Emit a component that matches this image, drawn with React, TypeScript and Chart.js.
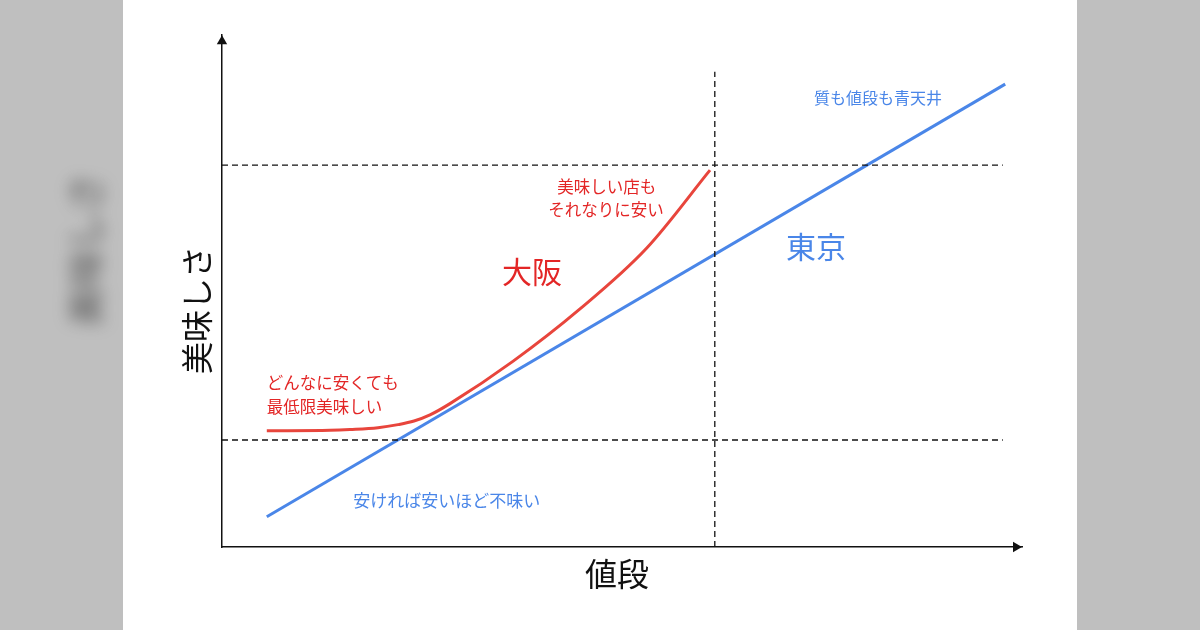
import React, { useEffect, useRef } from "react";
import { Chart, registerables } from "chart.js";

Chart.register(...registerables);

// Price (x) vs. tastiness (y), arbitrary 0-100 units
const tokyoX = [5.6, 97.9];
const tokyoY = [5.9, 90.4];

const osakaX = [5.6, 13.5, 16.0, 19.5, 22.0, 24.0, 26.0, 28.5, 36.4, 44.75, 53.1, 61.0];
const osakaY = [22.7, 22.8, 22.95, 23.3, 23.9, 24.6, 25.8, 28.0, 36.3, 46.5, 58.4, 73.6];

const refHighY = 74.6;
const refLowY = 20.9;
const refLineEndX = 97.6;
const refPriceX = 61.6;
const refPriceTopY = 92.8;

const xTitle = "値段";
const yTitle = "美味しさ";
const labelTexts = [
  "質も値段も青天井",
  "東京",
  "大阪",
  "美味しい店も",
  "それなりに安い",
  "どんなに安くても",
  "最低限美味しい",
  "安ければ安いほど不味い",
];

const FONT = '"Noto Sans CJK JP", "Noto Sans", sans-serif';
const BLUE = "#4a86e8";
const RED = "#e8453c";
const RED_TEXT = "#e32626";

const labelStyles = [
  { x: 82, y: 87.7, size: 16, color: BLUE, align: "center" },
  { x: 74.25, y: 58.6, size: 30, color: BLUE, align: "center" },
  { x: 38.75, y: 53.7, size: 30, color: RED_TEXT, align: "center" },
  { x: 48.1, y: 70.3, size: 16.5, color: RED_TEXT, align: "center" },
  { x: 48.0, y: 65.8, size: 16.5, color: RED_TEXT, align: "center" },
  { x: 5.6, y: 32.0, size: 16.5, color: RED_TEXT, align: "left" },
  { x: 5.6, y: 27.3, size: 16.5, color: RED_TEXT, align: "left" },
  { x: 28.1, y: 9.0, size: 17, color: BLUE, align: "center" },
];

const textPlugin = {
  id: "textLabels",
  afterDatasetsDraw(chart: any) {
    const { ctx, scales, chartArea } = chart;
    const xs = scales.x;
    const ys = scales.y;
    ctx.save();
    ctx.textBaseline = "middle";
    labelTexts.forEach((t, i) => {
      const s = labelStyles[i];
      ctx.font = `${s.size}px ${FONT}`;
      ctx.fillStyle = s.color;
      ctx.textAlign = s.align;
      ctx.fillText(t, xs.getPixelForValue(s.x), ys.getPixelForValue(s.y));
    });
    // axis titles
    ctx.fillStyle = "#111";
    ctx.font = `32px ${FONT}`;
    ctx.textAlign = "center";
    ctx.fillText(xTitle, chartArea.left + 395, chartArea.bottom + 27);
    ctx.save();
    ctx.translate(chartArea.left - 25, chartArea.top + 275);
    ctx.rotate(-Math.PI / 2);
    ctx.fillText(yTitle, 0, 0);
    ctx.restore();
    ctx.restore();
  },
};

export default function App() {
  const ref = useRef<HTMLCanvasElement | null>(null);

  useEffect(() => {
    if (!ref.current) return;
    const dash = [6, 4];
    const chart = new Chart(ref.current, {
      type: "scatter",
      data: {
        datasets: [
          {
            data: [
              { x: 0, y: refHighY },
              { x: refLineEndX, y: refHighY },
            ],
            showLine: true,
            borderColor: "#111",
            borderWidth: 1.3,
            borderDash: dash,
            pointRadius: 0,
          },
          {
            data: [
              { x: 0, y: refLowY },
              { x: refLineEndX, y: refLowY },
            ],
            showLine: true,
            borderColor: "#111",
            borderWidth: 1.3,
            borderDash: dash,
            pointRadius: 0,
          },
          {
            data: [
              { x: refPriceX, y: 0 },
              { x: refPriceX, y: refPriceTopY },
            ],
            showLine: true,
            borderColor: "#111",
            borderWidth: 1.3,
            borderDash: dash,
            pointRadius: 0,
          },
          {
            label: "東京",
            data: tokyoX.map((x, i) => ({ x, y: tokyoY[i] })),
            showLine: true,
            borderColor: BLUE,
            borderWidth: 3,
            pointRadius: 0,
          },
          {
            label: "大阪",
            data: osakaX.map((x, i) => ({ x, y: osakaY[i] })),
            showLine: true,
            borderColor: RED,
            borderWidth: 3,
            pointRadius: 0,
            cubicInterpolationMode: "monotone",
          },
          {
            // axis arrow heads
            data: [
              { x: 0, y: 98.8 },
              { x: 99.25, y: 0 },
            ],
            showLine: false,
            pointStyle: "triangle",
            pointRadius: 6,
            rotation: [0, 90],
            backgroundColor: "#111",
            borderColor: "#111",
            borderWidth: 0,
            clip: false,
          } as any,
        ],
      },
      options: {
        animation: false,
        responsive: false,
        maintainAspectRatio: false,
        layout: { padding: { left: 214, right: 178, top: 35, bottom: 75 } },
        plugins: { legend: { display: false }, tooltip: { enabled: false } },
        scales: {
          x: {
            type: "linear",
            min: 0,
            max: 100,
            grid: { display: false },
            ticks: { display: false },
            border: { display: true, color: "#111", width: 1.5 },
          },
          y: {
            type: "linear",
            min: 0,
            max: 100,
            grid: { display: false },
            ticks: { display: false },
            border: { display: true, color: "#111", width: 1.5 },
          },
        },
      },
      plugins: [textPlugin],
    } as any);
    return () => chart.destroy();
  }, []);

  return (
    <div
      style={{
        position: "fixed",
        left: 0,
        top: 0,
        width: 1200,
        height: 630,
        background: "#bfbfbf",
        overflow: "hidden",
      }}
    >
      <div
        style={{
          position: "absolute",
          left: 83,
          top: 250,
          transform: "translate(-50%, -50%) rotate(-90deg)",
          font: `bold 38px ${FONT}`,
          color: "#555",
          filter: "blur(8px)",
          whiteSpace: "nowrap",
          opacity: 0.7,
        }}
      >
        {yTitle}
      </div>
      <div
        style={{
          position: "absolute",
          left: 123,
          top: 0,
          width: 954,
          height: 630,
          background: "#ffffff",
        }}
      />
      <canvas
        ref={ref}
        width={1200}
        height={630}
        style={{ position: "absolute", left: 0, top: 0, width: 1200, height: 630 }}
      />
    </div>
  );
}
